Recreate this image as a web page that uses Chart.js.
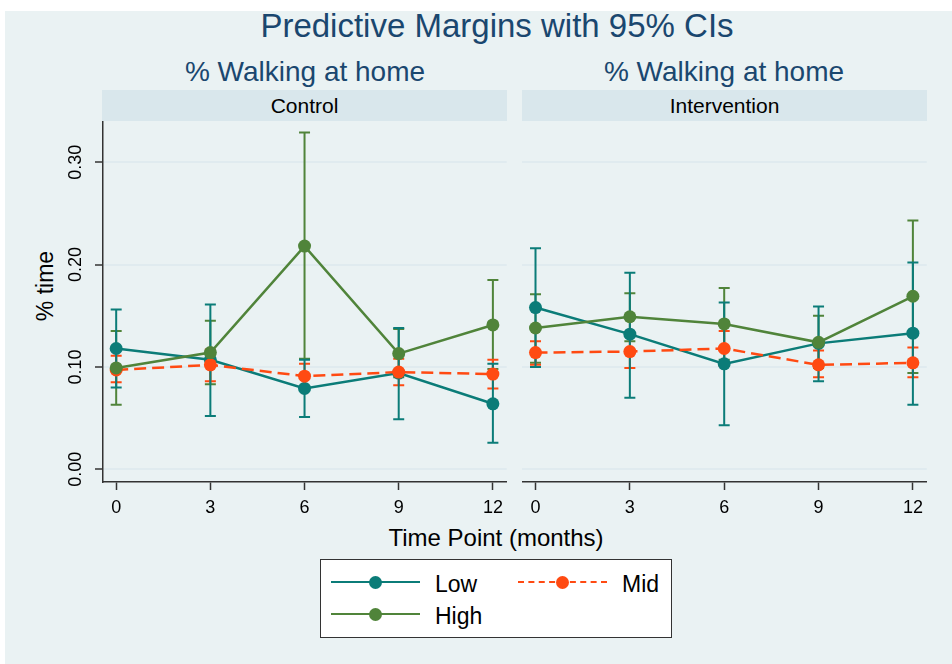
<!DOCTYPE html>
<html>
<head>
<meta charset="utf-8">
<script src="https://cdn.jsdelivr.net/npm/chart.js@4"></script>
<style>
  body { margin: 0; background: #fff; font-family: "Liberation Sans", Arial, sans-serif; }
  #page { position: absolute; left: 5px; top: 11px; width: 947px; height: 653px; background: #EAF2F3; }
  .txt { position: absolute; white-space: nowrap; line-height: 1; }
  .title { color: #1A476F; text-align: center; transform: translate(-50%, -50%); }
  .strip { position: absolute; top: 90px; height: 31px; background: #D9E7EC; font-size: 21px;
           display: flex; align-items: center; justify-content: center; color: #000; }
  canvas { position: absolute; }
  #legend { position: absolute; left: 320px; top: 559px; width: 350px; height: 77px;
            background: #fff; border: 1.5px solid #333; }
  .item { position: absolute; height: 24px; }
  .item .ln { position: absolute; left: 0; top: 11px; width: 89px; border-top: 2.5px solid; }
  .item .dot { position: absolute; left: 38px; top: 6px; width: 13px; height: 13px; border-radius: 50%; }
  .item .lab { position: absolute; left: 104px; top: 1px; font-size: 23px; }
</style>
</head>
<body>
<div id="page"></div>
<div class="txt title" style="left:497px; top:25px; font-size:33px;">Predictive Margins with 95% CIs</div>
<div class="txt title" style="left:305px; top:72px; font-size:28px;">% Walking at home</div>
<div class="txt title" style="left:724px; top:72px; font-size:28px;">% Walking at home</div>
<div class="strip" style="left:102px; width:405px;">Control</div>
<div class="strip" style="left:522px; width:405px;">Intervention</div>
<div class="txt" style="left:45px; top:286px; font-size:23px; transform: translate(-50%, -50%) rotate(-90deg);">% time</div>
<div class="txt title" style="left:496px; top:538px; font-size:24px; color:#000;">Time Point (months)</div>
<canvas id="left" width="510" height="400" style="left:0; top:121px;"></canvas>
<canvas id="right" width="411" height="400" style="left:519px; top:121px;"></canvas>
<div id="legend">
  <div class="item" style="left:10px; top:10px;"><div class="ln" style="border-color:#0B7C78"></div><div class="dot" style="background:#0B7C78"></div><div class="lab">Low</div></div>
  <div class="item" style="left:197px; top:10px;"><div class="ln" style="border-color:#FF4A12; border-top-style:dashed"></div><div class="dot" style="background:#FF4A12"></div><div class="lab">Mid</div></div>
  <div class="item" style="left:10px; top:42px;"><div class="ln" style="border-color:#50843A"></div><div class="dot" style="background:#50843A"></div><div class="lab">High</div></div>
</div>
<script>
// time points and axis ticks
const months = [0, 3, 6, 9, 12];
const yTicks = [0, 0.1, 0.2, 0.3];

// Control panel: margins and 95% CI bounds
const ctrlLow = [0.118, 0.107, 0.079, 0.094, 0.064];
const ctrlLowLo = [0.080, 0.052, 0.051, 0.049, 0.026];
const ctrlLowHi = [0.156, 0.161, 0.107, 0.138, 0.103];
const ctrlMid = [0.097, 0.102, 0.091, 0.095, 0.093];
const ctrlMidLo = [0.085, 0.086, 0.079, 0.082, 0.079];
const ctrlMidHi = [0.111, 0.117, 0.103, 0.108, 0.107];
const ctrlHigh = [0.099, 0.114, 0.218, 0.113, 0.141];
const ctrlHighLo = [0.063, 0.083, 0.108, 0.090, 0.098];
const ctrlHighHi = [0.135, 0.145, 0.329, 0.137, 0.185];

// Intervention panel
const intLow = [0.158, 0.132, 0.103, 0.123, 0.133];
const intLowLo = [0.100, 0.070, 0.043, 0.086, 0.063];
const intLowHi = [0.216, 0.192, 0.163, 0.159, 0.202];
const intMid = [0.114, 0.115, 0.118, 0.102, 0.104];
const intMidLo = [0.102, 0.099, 0.101, 0.090, 0.090];
const intMidHi = [0.125, 0.131, 0.135, 0.116, 0.119];
const intHigh = [0.138, 0.149, 0.142, 0.124, 0.169];
const intHighLo = [0.104, 0.125, 0.107, 0.099, 0.094];
const intHighHi = [0.171, 0.172, 0.177, 0.150, 0.243];

const LOW = '#0B7C78', MID = '#FF4A12', HIGH = '#50843A';
const FONT = '"Liberation Sans", Arial, sans-serif';

// draw the confidence intervals (rcap) behind the lines
const ciPlugin = {
    id: 'ci',
    beforeDatasetsDraw(chart) {
        const ctx = chart.ctx;
        const xs = chart.scales.x, ys = chart.scales.y;
        chart.data.datasets.forEach(ds => {
            ctx.save();
            ctx.strokeStyle = ds.borderColor;
            ctx.lineWidth = 2;
            ds.lo.forEach((lo, i) => {
                const x = xs.getPixelForValue(months[i]);
                const y1 = ys.getPixelForValue(lo);
                const y2 = ys.getPixelForValue(ds.hi[i]);
                ctx.beginPath();
                ctx.moveTo(x, y1); ctx.lineTo(x, y2);
                ctx.moveTo(x - 5.5, y1); ctx.lineTo(x + 5.5, y1);
                ctx.moveTo(x - 5.5, y2); ctx.lineTo(x + 5.5, y2);
                ctx.stroke();
            });
            ctx.restore();
        });
    }
};

function series(label, vals, lo, hi, color, dash) {
    return {
        label: label,
        data: vals.map((v, i) => ({ x: months[i], y: v })),
        lo: lo, hi: hi,
        borderColor: color,
        backgroundColor: color,
        borderWidth: 2.5,
        borderDash: dash,
        pointRadius: 6.5,
        pointBorderWidth: 0,
        pointBackgroundColor: color,
        tension: 0
    };
}

function makeChart(id, low, lowLo, lowHi, mid, midLo, midHi, high, highLo, highHi, showY) {
    const ctx = document.getElementById(id).getContext('2d');
    return new Chart(ctx, {
        type: 'line',
        data: {
            datasets: [
                series('High', high, highLo, highHi, HIGH, []),
                series('Mid', mid, midLo, midHi, MID, [12, 6]),
                series('Low', low, lowLo, lowHi, LOW, [])
            ]
        },
        options: {
            responsive: false,
            animation: false,
            layout: { autoPadding: false, padding: { left: 0, right: 3, top: 0, bottom: 0 } },
            plugins: { legend: { display: false }, tooltip: { enabled: false } },
            scales: {
                x: {
                    type: 'linear',
                    min: -0.42,
                    max: 12.44,
                    afterBuildTicks: s => { s.ticks = months.map(v => ({ value: v })); },
                    afterFit: s => { s.height = 39; },
                    ticks: { font: { size: 18, family: FONT }, color: '#000', padding: 7, maxRotation: 0, autoSkip: false },
                    grid: { drawOnChartArea: false, tickLength: 8, tickColor: '#333', tickWidth: 1.5 },
                    border: { color: '#333', width: 1.5 }
                },
                y: {
                    min: -0.0124,
                    max: 0.3402,
                    afterBuildTicks: s => { s.ticks = yTicks.map(v => ({ value: v })); },
                    afterFit: s => { s.width = showY ? 103 : 3.3; s.paddingTop = 0; s.paddingBottom = 0; },
                    ticks: {
                        display: showY,
                        callback: v => v.toFixed(2),
                        font: { size: 18, family: FONT },
                        color: '#000',
                        minRotation: 90, maxRotation: 90,
                        crossAlign: 'center',
                        padding: 1
                    },
                    grid: { color: '#E0EBEF', lineWidth: 2, drawTicks: showY, tickLength: 8, tickColor: '#333', tickWidth: 1.5 },
                    border: { display: showY, color: '#333', width: 1.5 }
                }
            }
        },
        plugins: [ciPlugin]
    });
}

makeChart('left', ctrlLow, ctrlLowLo, ctrlLowHi, ctrlMid, ctrlMidLo, ctrlMidHi, ctrlHigh, ctrlHighLo, ctrlHighHi, true);
makeChart('right', intLow, intLowLo, intLowHi, intMid, intMidLo, intMidHi, intHigh, intHighLo, intHighHi, false);
</script>
</body>
</html>
